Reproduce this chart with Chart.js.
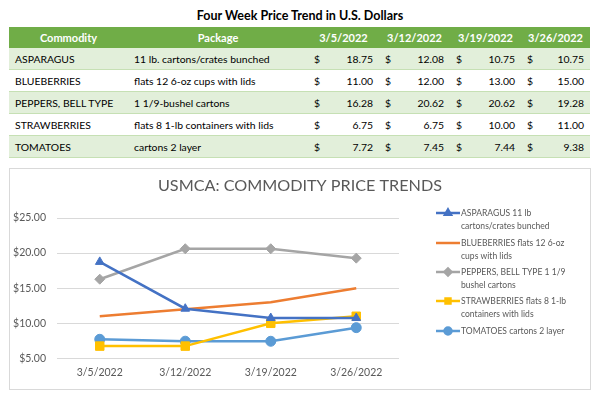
<!DOCTYPE html>
<html>
<head>
<meta charset="utf-8">
<script src="https://cdn.jsdelivr.net/npm/chart.js@4"></script>
<style>
  body { margin:0; background:#fff; font-family:Lato, "Open Sans", sans-serif; }
  #ttl { position:absolute; left:0; top:8px; width:600px; text-align:center; font-weight:700; font-size:12.5px; color:#000; }
  #tbl { position:absolute; left:9px; top:27px; width:581px; border-collapse:collapse; font-size:10.4px; table-layout:fixed; }
  #tbl th { background:#70AD47; color:#fff; font-weight:700; font-size:11px; height:21px; padding:0; text-align:center; }
  #tbl td { height:21px; padding:0 6px; border-bottom:1px solid #C6E0B4; white-space:nowrap; }
  #tbl tr.g td { background:#E2EFDA; }
  #tbl td.v span { float:left; }
  #tbl td.v { text-align:right; }
  #box { position:absolute; left:9px; top:168px; width:582px; height:222px; border:1px solid #D9D9D9; box-sizing:border-box; }
</style>
</head>
<body>
<div id="ttl">Four Week Price Trend in U.S. Dollars</div>
<table id="tbl">
  <colgroup><col style="width:119px"><col style="width:180px"><col style="width:71px"><col style="width:71px"><col style="width:71px"><col style="width:69px"></colgroup>
  <thead id="thead"></thead>
  <tbody id="tbody"></tbody>
</table>
<div id="box"><canvas id="c" width="580" height="220"></canvas></div>
<script>
const semanas    = ['3/5/2022', '3/12/2022', '3/19/2022', '3/26/2022'];
const productos  = ['ASPARAGUS', 'BLUEBERRIES', 'PEPPERS, BELL TYPE', 'STRAWBERRIES', 'TOMATOES'];
const empaques   = ['11 lb. cartons/crates bunched', 'flats 12 6-oz cups with lids', '1 1/9-bushel cartons', 'flats 8 1-lb containers with lids', 'cartons 2 layer'];
const leyendas   = [
  ['ASPARAGUS 11 lb', 'cartons/crates bunched'],
  ['BLUEBERRIES flats 12 6-oz', 'cups with lids'],
  ['PEPPERS, BELL TYPE 1 1/9', 'bushel cartons'],
  ['STRAWBERRIES flats 8 1-lb', 'containers with lids'],
  ['TOMATOES cartons 2 layer']
];
const asparagus    = [18.75, 12.08, 10.75, 10.75];
const blueberries  = [11.00, 12.00, 13.00, 15.00];
const peppers      = [16.28, 20.62, 20.62, 19.28];
const strawberries = [6.75, 6.75, 10.00, 11.00];
const tomatoes     = [7.72, 7.45, 7.44, 9.38];
const precios = [asparagus, blueberries, peppers, strawberries, tomatoes];

const colores = ['#4472C4', '#ED7D31', '#A5A5A5', '#FFC000', '#5B9BD5'];
const marcas  = ['triangle', false, 'rectRot', 'rect', 'circle'];
const radios  = [5, 0, 5, 6, 5];

// tabla
document.getElementById('thead').innerHTML = '<tr><th>Commodity</th><th>Package</th>' +
  semanas.map(s => `<th>${s}</th>`).join('') + '</tr>';
document.getElementById('tbody').innerHTML = productos.map((p, i) => `
  <tr class="${i % 2 === 0 ? 'g' : ''}">
    <td>${p}</td><td>${empaques[i]}</td>
    ${precios[i].map(v => `<td class="v"><span>$</span>${v.toFixed(2)}</td>`).join('')}
  </tr>`).join('');

// titulo y leyenda a la derecha, dibujados en el canvas
const leyendaPlugin = {
  id: 'leyendaDerecha',
  afterDraw(chart) {
    const ctx = chart.ctx;
    const ys = [44, 74, 103, 132, 162];
    ctx.save();
    ctx.fillStyle = '#595959';
    ctx.textBaseline = 'middle';
    ctx.textAlign = 'center';
    ctx.font = '16.2px Lato';
    ctx.fillText('USMCA: COMMODITY PRICE TRENDS', 290, 17);
    ctx.textAlign = 'left';
    ctx.font = '10.2px Lato';
    chart.data.datasets.forEach((ds, i) => {
      const y = ys[i];
      ctx.strokeStyle = ds.borderColor;
      ctx.lineWidth = 2.5;
      ctx.beginPath(); ctx.moveTo(426, y); ctx.lineTo(450, y); ctx.stroke();
      if (ds.pointStyle && Chart.helpers && Chart.helpers.drawPoint) {
        ctx.fillStyle = ds.borderColor;
        Chart.helpers.drawPoint(ctx, { pointStyle: ds.pointStyle, radius: 3.5, rotation: 0, borderWidth: 1 }, 438, y);
        ctx.fill();
        ctx.fillStyle = '#595959';
      }
      // texto algo comprimido, como el Calibri del original
      leyendas[i].forEach((t, k) => ctx.fillText(t, 451, y + k * 12.5, ctx.measureText(t).width * 0.84));
    });
    ctx.restore();
  }
};

new Chart(document.getElementById('c'), {
  type: 'line',
  data: {
    labels: semanas,
    datasets: precios.map((d, i) => ({
      label: leyendas[i].join(' '),
      data: d,
      borderColor: colores[i],
      backgroundColor: colores[i],
      borderWidth: 2.5,
      pointStyle: marcas[i],
      pointRadius: radios[i],
      pointBorderWidth: 1,
      tension: 0
    }))
  },
  options: {
    responsive: false,
    animation: false,
    layout: { padding: { left: 0, right: 191, bottom: 2, top: 49 } },
    plugins: {
      legend: { display: false },
      tooltip: { enabled: false },
      title: { display: false }
    },
    scales: {
      x: {
        offset: true,
        grid: { display: false, drawTicks: false },
        border: { display: false },
        ticks: { color: '#595959', font: { family: 'Lato', size: 10.5 }, padding: 8, maxRotation: 0 }
      },
      y: {
        min: 5, max: 25,
        afterFit: s => { s.width = 47; },
        grid: { color: '#D9D9D9', drawTicks: false },
        border: { display: false },
        ticks: { stepSize: 5, color: '#595959', font: { family: 'Lato', size: 10.5 }, padding: 11,
                 callback: v => '$' + v.toFixed(2) }
      }
    }
  },
  plugins: [leyendaPlugin]
});
</script>
</body>
</html>
